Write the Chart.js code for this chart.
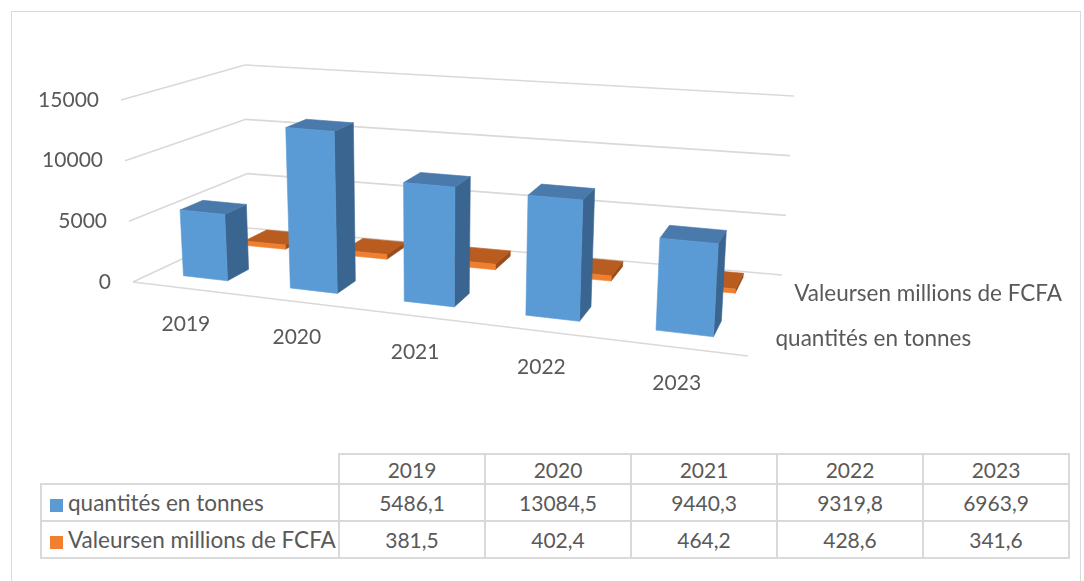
<!DOCTYPE html>
<html>
<head>
<meta charset="utf-8">
<script src="https://cdn.jsdelivr.net/npm/chart.js@4.4.0/dist/chart.umd.min.js"></script>
<style>
body{margin:0;background:#fff;font-family:Lato,sans-serif;color:#595959}
#wrap{position:relative;width:1084px;height:581px;overflow:hidden}
#frame{position:absolute;left:11px;top:11px;width:1070px;height:620px;border:1.5px solid #d9d9d9;box-sizing:border-box}
canvas{position:absolute;left:0;top:0}
table{position:absolute;left:40px;top:453px;border-collapse:collapse;table-layout:fixed;width:1029px;font-size:21px}
td{border:2px solid #d9d9d9;text-align:center;padding:0;white-space:nowrap}
tr.head td{height:28px}
tr.row td{height:35px}
td.lab{text-align:left;padding-left:8px;font-size:22.5px}
td.empty{border:none}
.sq{display:inline-block;width:13px;height:13px;margin-right:5px;vertical-align:-1px}
</style>
</head>
<body>
<div id="wrap">
<div id="frame"></div>
<canvas id="myChart" width="1084" height="445"></canvas>
<table id="tbl"></table>
</div>
<script>
var years = ['2019', '2020', '2021', '2022', '2023'];
var quantites = [5486.1, 13084.5, 9440.3, 9319.8, 6963.9];
var valeurs = [381.5, 402.4, 464.2, 428.6, 341.6];
var seriesNames = ['quantités en tonnes', 'Valeursen millions de FCFA'];
var yTicks = [0, 5000, 10000, 15000];

// box corners of the 3d frame on screen (front/back, bottom/top, left/right)
var BOX = {
    fbl: [133, 282], fbr: [748, 356], bbl: [248, 228], bbr: [782, 275],
    ftl: [121, 100], ftr: [760, 149], btl: [245, 65], btr: [794, 96]
};
var PERSP = 1.18;               // foreshortening along the category axis
var ROWS = [[0.18, 0.38], [0.73, 0.93]];   // depth of each series row
var FACES = [
    {front: '#5b9bd5', top: '#4a7aab', side: '#3b6591'},
    {front: '#f08030', top: '#b85c20', side: '#9a4c1a'}
];

function bil(a, b, c, d, u, w) {
    return [
        (1-u)*(1-w)*a[0] + u*(1-w)*b[0] + (1-u)*w*c[0] + u*w*d[0],
        (1-u)*(1-w)*a[1] + u*(1-w)*b[1] + (1-u)*w*c[1] + u*w*d[1]
    ];
}
function proj(u, v, w) {
    var ug = u / (u + PERSP*(1-u));
    var b = bil(BOX.fbl, BOX.fbr, BOX.bbl, BOX.bbr, ug, w);
    var t = bil(BOX.ftl, BOX.ftr, BOX.btl, BOX.btr, ug, w);
    return [b[0] + v*(t[0]-b[0]), b[1] + v*(t[1]-b[1])];
}

var cube = {
    id: 'cube',
    beforeDatasetsDraw: function(chart) {
        var ctx = chart.ctx, ca = chart.chartArea;
        var xs = chart.scales.x, ys = chart.scales.y;
        var nu = function(px) { return (px - ca.left) / (ca.right - ca.left); };
        var nv = function(py) { return (ca.bottom - py) / (ca.bottom - ca.top); };
        function line(p, q) {
            ctx.beginPath(); ctx.moveTo(p[0], p[1]); ctx.lineTo(q[0], q[1]); ctx.stroke();
        }
        function poly(pts, col) {
            ctx.beginPath();
            ctx.moveTo(pts[0][0], pts[0][1]);
            for (var i = 1; i < pts.length; i++) ctx.lineTo(pts[i][0], pts[i][1]);
            ctx.closePath();
            ctx.fillStyle = col; ctx.strokeStyle = col; ctx.lineWidth = 0.6;
            ctx.fill(); ctx.stroke();
        }
        ctx.save();
        // walls
        ctx.strokeStyle = '#d9d9d9';
        ctx.lineWidth = 1.6;
        yTicks.forEach(function(t) {
            var v = nv(ys.getPixelForValue(t));
            line(proj(0, v, 0), proj(0, v, 1));
            line(proj(0, v, 1), proj(1, v, 1));
        });
        line(proj(0, 0, 0), proj(1, 0, 0));

        // texts
        ctx.fillStyle = '#595959';
        ctx.font = '21px Lato';
        ctx.textBaseline = 'middle';
        ctx.textAlign = 'right';
        yTicks.forEach(function(t) {
            var p = proj(0, nv(ys.getPixelForValue(t)), 0);
            ctx.fillText(String(t), p[0] - 22, p[1]);
        });
        ctx.textAlign = 'center';
        years.forEach(function(y, i) {
            var p = proj(nu(xs.getPixelForValue(i)), 0, 0);
            ctx.fillText(y, p[0], p[1] + 36);
        });
        ctx.textAlign = 'left';
        ctx.font = '22.5px Lato';
        chart.data.datasets.forEach(function(ds, di) {
            var p = proj(1, 0, (ROWS[di][0] + ROWS[di][1]) / 2);
            ctx.fillText(ds.label, p[0] + 18, p[1] + 5);
        });

        // bars, back row first
        for (var di = chart.data.datasets.length - 1; di >= 0; di--) {
            var meta = chart.getDatasetMeta(di);
            var w0 = ROWS[di][0], w1 = ROWS[di][1], f = FACES[di];
            meta.data.forEach(function(el) {
                var g = el.getProps(['x', 'y', 'base', 'width'], true);
                var u0 = nu(g.x - g.width/2), u1 = nu(g.x + g.width/2);
                var vb = nv(g.base), vt = nv(g.y);
                poly([proj(u1, vb, w0), proj(u1, vb, w1), proj(u1, vt, w1), proj(u1, vt, w0)], f.side);
                poly([proj(u0, vt, w0), proj(u1, vt, w0), proj(u1, vt, w1), proj(u0, vt, w1)], f.top);
                poly([proj(u0, vb, w0), proj(u1, vb, w0), proj(u1, vt, w0), proj(u0, vt, w0)], f.front);
            });
        }
        ctx.restore();
        return false;
    }
};

function draw(){
var ctx = document.getElementById('myChart').getContext('2d');
var myChart = new Chart(ctx, {
    type: 'bar',
    data: {
        labels: years,
        datasets: [{
            label: seriesNames[0],
            data: quantites,
            backgroundColor: FACES[0].front,
            grouped: false,
            barPercentage: 0.42,
            categoryPercentage: 1
        }, {
            label: seriesNames[1],
            data: valeurs,
            backgroundColor: FACES[1].front,
            grouped: false,
            barPercentage: 0.42,
            categoryPercentage: 1
        }]
    },
    options: {
        responsive: false,
        animation: false,
        layout: {padding: {left: 130, right: 330, top: 100, bottom: 160}},
        plugins: {legend: {display: false}, tooltip: {enabled: false}},
        scales: {
            x: {display: false},
            y: {display: false, min: 0, max: 15000, ticks: {stepSize: 5000}}
        }
    },
    plugins: [cube]
});

// data table under the chart
var fmt = function(n) { return String(n).replace('.', ','); };
var html = '<colgroup><col style="width:298px">' + years.map(function() { return '<col style="width:146px">'; }).join('') + '</colgroup>';
html += '<tr class="head"><td class="empty"></td>' + years.map(function(y) { return '<td>' + y + '</td>'; }).join('') + '</tr>';
[quantites, valeurs].forEach(function(arr, i) {
    html += '<tr class="row"><td class="lab"><span class="sq" style="background:' + FACES[i].front + '"></span>' + seriesNames[i] + '</td>' +
        arr.map(function(v) { return '<td>' + fmt(v) + '</td>'; }).join('') + '</tr>';
});
document.getElementById('tbl').innerHTML = html;
};
draw();
</script>
</body>
</html>
